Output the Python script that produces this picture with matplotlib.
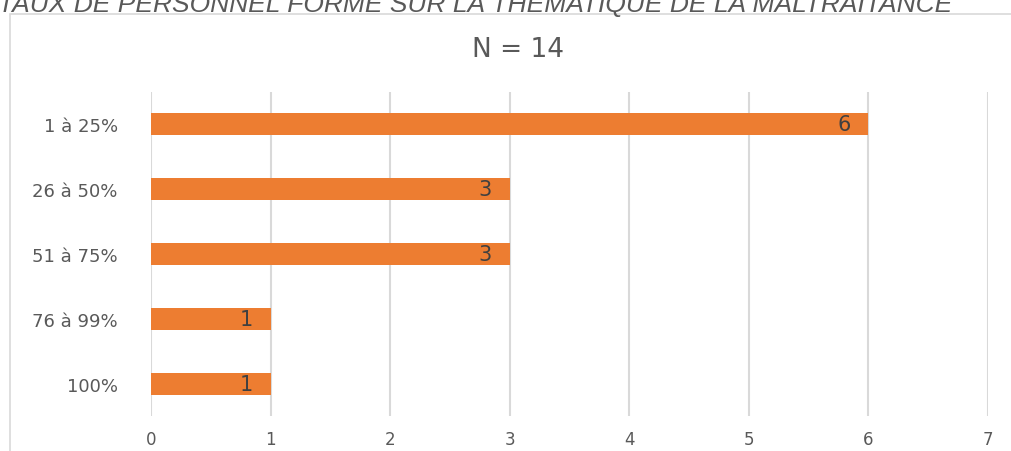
import matplotlib.pyplot as plt
from matplotlib.patches import Rectangle

categories = ['1 à 25%', '26 à 50%', '51 à 75%', '76 à 99%', '100%']
counts = [6, 3, 3, 1, 1]
x_ticks = [0, 1, 2, 3, 4, 5, 6, 7]

bar_color = '#ED7D31'
text_gray = '#595959'

fig = plt.figure(figsize=(10.12, 4.52), dpi=100)

# cadre du graphique
fig.patches.append(Rectangle((10 / 1012, -0.1), 1.2, 1 - 15 / 452 + 0.1,
                             transform=fig.transFigure, fill=False,
                             edgecolor='#d9d9d9', linewidth=1.2))

# titre coupé en haut (comme dans l'original)
fig.text(-0.002, 1 - 12 / 452, 'TAUX DE PERSONNEL FORMÉ SUR LA THÉMATIQUE DE LA MALTRAITANCE',
         family='Liberation Sans', style='italic', fontsize=19, color=text_gray,
         ha='left', va='baseline')

ax = fig.add_axes([151 / 1012, 1 - 417 / 452, 837 / 1012, 324 / 452])
ypos = list(range(len(categories)))
bars = ax.barh(ypos, counts, height=0.34, color=bar_color, zorder=3)
ax.set_ylim(len(categories) - 0.5, -0.5)
ax.set_xlim(0, 7)
ax.set_xticks(x_ticks)
ax.set_yticks(ypos)
ax.set_yticklabels(categories)

for b, v in zip(bars, counts):
    ax.text(b.get_width() - 0.15, b.get_y() + b.get_height() / 2, str(v),
            ha='right', va='center', fontsize=15, color='#404040',
            family='DejaVu Sans', zorder=4)

ax.grid(axis='x', color='#d9d9d9', linewidth=1.5, zorder=0)
for s in ax.spines.values():
    s.set_visible(False)
ax.tick_params(axis='both', length=0, colors=text_gray)
ax.tick_params(axis='y', pad=24, labelsize=13)
ax.tick_params(axis='x', pad=10, labelsize=12)

fig.text(518 / 1012, 1 - 50 / 452, 'N = 14', ha='center', va='center',
         fontsize=19, color=text_gray, family='DejaVu Sans')

fig.savefig('out.png', dpi=100)
